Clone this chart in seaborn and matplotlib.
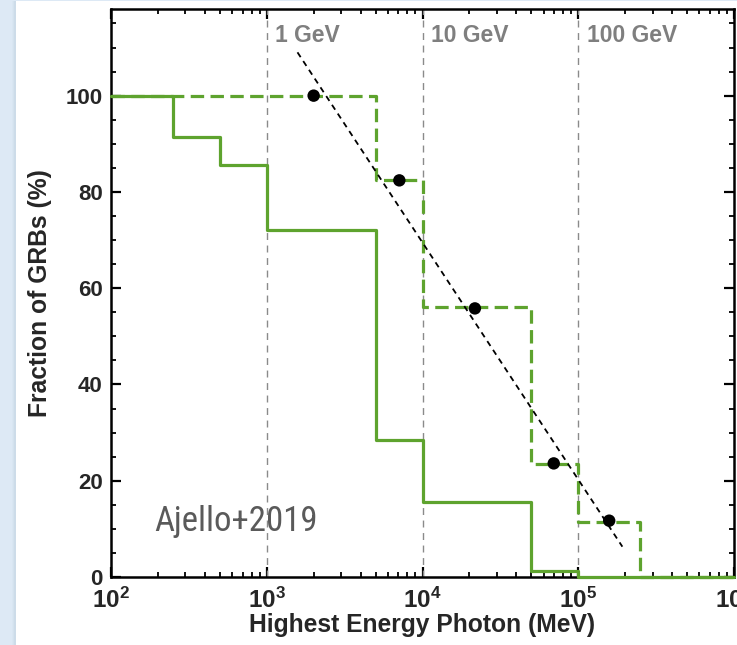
import matplotlib
matplotlib.use("Agg")
import matplotlib.pyplot as plt
from matplotlib.patches import Rectangle
from matplotlib.ticker import LogLocator, FixedLocator, MultipleLocator, NullFormatter
from matplotlib import font_manager
import seaborn as sns
import pandas as pd

# Highest-energy photon distribution of Fermi-LAT GRBs
solid_edges = [1e2, 250, 500, 1e3, 5e3, 1e4, 5e4, 1e5, 1e6]
solid_frac = [100, 91.5, 85.5, 72, 28.5, 15.5, 1.3, 0, 0]

dashed_edges = [1e2, 5e3, 1e4, 5e4, 1e5, 2.5e5, 1e6]
dashed_frac = [100, 82.5, 56, 23.5, 11.5, 0, 0]

point_energy = [2000, 7100, 21700, 69600, 158000]
point_frac = [100, 82.4, 55.8, 23.6, 11.7]

fit_energy = [1575, 1.92e5]
fit_frac = [109, 6.3]

gev_lines = [1e3, 1e4, 1e5]
gev_labels = ["1 GeV", "10 GeV", "100 GeV"]

xtick_vals = [1e2, 1e3, 1e4, 1e5, 1e6]
xtick_labels = [r"$\mathbf{10^{2}}$", r"$\mathbf{10^{3}}$", r"$\mathbf{10^{4}}$",
                r"$\mathbf{10^{5}}$", r"$\mathbf{10^{6}}$"]
ytick_vals = [0, 20, 40, 60, 80, 100]

sns.set_theme(style="white")
plt.rcParams["font.family"] = ["Liberation Sans", "DejaVu Sans"]
plt.rcParams["mathtext.fontset"] = "custom"
plt.rcParams["mathtext.rm"] = "Liberation Sans"
plt.rcParams["mathtext.bf"] = "Liberation Sans:bold"

# narrow face for the citation tag, if one is available
installed = {f.name for f in font_manager.fontManager.ttflist}
narrow_faces = [f for f in ["Roboto Condensed", "Liberation Sans Narrow", "Open Sans Condensed",
                            "DejaVu Sans Condensed"] if f in installed]

green = "#5ea32e"

fig = plt.figure(figsize=(7.37, 6.45), dpi=100)
fig.patch.set_facecolor("#dde9f5")
# slide panel with a faint shadow on its left edge
for i, a in enumerate([0.05, 0.08, 0.12]):
    fig.patches.append(Rectangle(((12 + i) / 737, 0), 4 / 737, 1 - 1 / 645,
                                 transform=fig.transFigure, facecolor="#9fb3c8",
                                 alpha=a, edgecolor="none", zorder=-3))
fig.patches.append(Rectangle((16 / 737, 0), 1, 1 - 1 / 645, transform=fig.transFigure,
                             facecolor="white", edgecolor="none", zorder=-2))

ax = fig.add_axes([111 / 737, 1 - 577 / 645, 623 / 737, 568 / 645])
ax.set_facecolor("none")
ax.set_xscale("log")
ax.set_xlim(1e2, 1e6)
ax.set_ylim(0, 118)

for xv, lab in zip(gev_lines, gev_labels):
    ax.axvline(xv, color="#8a8a8a", lw=1.0, ls=(0, (5, 4)), zorder=1)
    ax.text(xv * 1.13, 112.4, lab, color="#7f7f7f", fontsize=16.5, fontweight="bold",
            ha="left", va="center")

solid_df = pd.DataFrame({"energy": solid_edges, "frac": solid_frac})
dashed_df = pd.DataFrame({"energy": dashed_edges, "frac": dashed_frac})
fit_df = pd.DataFrame({"energy": fit_energy, "frac": fit_frac})
pts_df = pd.DataFrame({"energy": point_energy, "frac": point_frac})

sns.lineplot(data=solid_df, x="energy", y="frac", ax=ax, color=green, lw=2.3,
             drawstyle="steps-post", estimator=None, sort=False, clip_on=False, zorder=4)
sns.lineplot(data=dashed_df, x="energy", y="frac", ax=ax, color=green, lw=2.3,
             drawstyle="steps-post", estimator=None, sort=False, clip_on=False, zorder=4,
             dashes=False, linestyle=(0, (4.2, 2.0)))
sns.lineplot(data=fit_df, x="energy", y="frac", ax=ax, color="black", lw=1.3,
             estimator=None, sort=False, linestyle=(0, (3.2, 2.6)), zorder=5)
sns.scatterplot(data=pts_df, x="energy", y="frac", ax=ax, color="black", s=80,
                edgecolor="none", zorder=6)

ax.text(43 / 623, (577 - 521) / 568, "Ajello+2019", transform=ax.transAxes,
        family=narrow_faces + ["DejaVu Sans"], fontstretch="condensed", fontsize=25,
        color="#5a5a5a", ha="left", va="center")

for s in ax.spines.values():
    s.set_visible(True)
    s.set_color("black")
    s.set_linewidth(1.8)
    s.set_zorder(3)

ax.xaxis.set_major_locator(FixedLocator(xtick_vals))
ax.set_xticklabels(xtick_labels)
ax.xaxis.set_minor_locator(LogLocator(base=10, subs=range(2, 10)))
ax.xaxis.set_minor_formatter(NullFormatter())
ax.yaxis.set_major_locator(FixedLocator(ytick_vals))
ax.yaxis.set_minor_locator(MultipleLocator(5))
ax.tick_params(which="both", direction="in", top=True, right=True, bottom=True, left=True,
               color="black")
ax.tick_params(which="major", length=7, width=1.6, labelsize=16, pad=6)
ax.tick_params(which="minor", length=3.5, width=1.3)
ax.tick_params(axis="x", which="major", pad=8, labelsize=17.5)
for lab in ax.get_yticklabels():
    lab.set_fontweight("bold")

ax.set_xlabel("Highest Energy Photon (MeV)", fontsize=17.7, fontweight="bold", labelpad=0)
ax.set_ylabel("Fraction of GRBs (%)", fontsize=17.7, fontweight="bold", labelpad=10)

fig.savefig("out.png", dpi=100, facecolor=fig.get_facecolor())
